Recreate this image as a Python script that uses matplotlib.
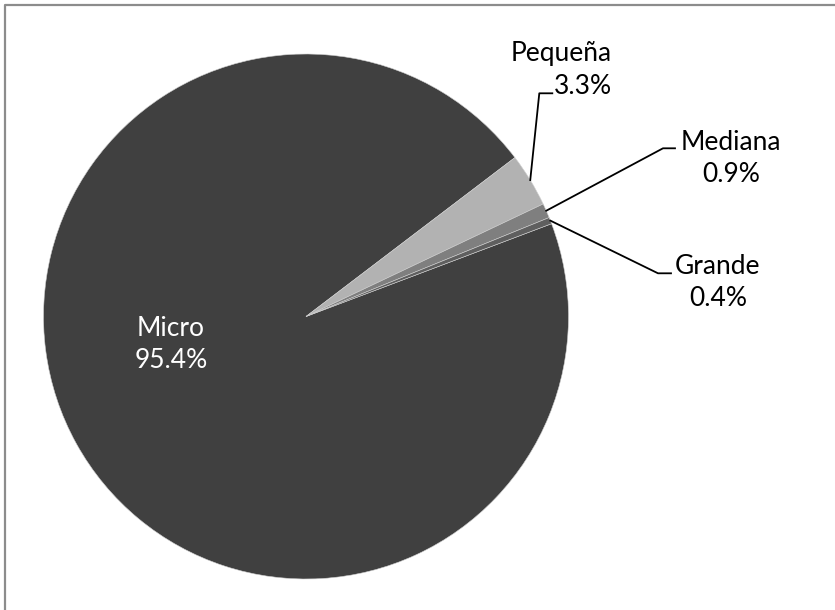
import numpy as np
import matplotlib
matplotlib.use("Agg")
import matplotlib.pyplot as plt
from matplotlib.lines import Line2D

# data
labels = ["Micro", "Pequeña", "Mediana", "Grande"]
shares = [95.4, 3.3, 0.9, 0.4]
colors = ["#404040", "#b2b2b2", "#7f7f7f", "#5f5f5f"]

W, H = 835, 610
plt.rcParams["font.family"] = ["Lato", "DejaVu Sans"]

fig = plt.figure(figsize=(W / 100, H / 100), dpi=100)
ax = fig.add_axes([0, 0, 1, 1])
ax.set_xlim(0, W)
ax.set_ylim(0, H)
ax.set_aspect("equal")
ax.axis("off")

cx, cy, r = 306, H - 316.5, 262.5
wedges, _ = ax.pie(shares, colors=colors, startangle=20.7, counterclock=False,
                   center=(cx, cy), radius=r, frame=True,
                   wedgeprops=dict(linewidth=0.4, edgecolor="#d0d0d0"))
ax.set_xlim(0, W)
ax.set_ylim(0, H)
ax.axis("off")

fs = 19
# Micro label inside the slice
ax.text(171, H - 345, f"{labels[0]}\n{shares[0]:.1f}%", color="white",
        fontsize=fs, ha="center", va="center", linespacing=1.35)

# outside labels with leader lines:
# (elbow x, elbow y, line end x, text x, text center y, alignment)
outer = {
    1: (539.3, 93.3, 552.3, 612, 70, "right"),
    2: (663.0, 148.3, 675.0, 731, 159, "center"),
    3: (658.0, 273.3, 671.0, 718, 283, "center"),
}
for i, (ex, ey, hx, tx, ty, al) in outer.items():
    w = wedges[i]
    mid = np.deg2rad((w.theta1 + w.theta2) / 2)
    sx, sy = cx + r * np.cos(mid), cy + r * np.sin(mid)
    ax.add_line(Line2D([sx, ex, hx], [sy, H - ey, H - ey], color="black", lw=1.3))
    ax.text(tx, H - ty, f"{labels[i]}\n{shares[i]:.1f}%", fontsize=fs,
            ha=al, va="center", multialignment=al, linespacing=1.35)

# chart border (only top and left edges visible)
fig.add_artist(Line2D([5 / W, 5 / W, 1], [0, 1 - 5 / H, 1 - 5 / H],
                      transform=fig.transFigure, color="#8c8c8c", lw=1.6))

fig.savefig("out.png", dpi=100, facecolor="white")
